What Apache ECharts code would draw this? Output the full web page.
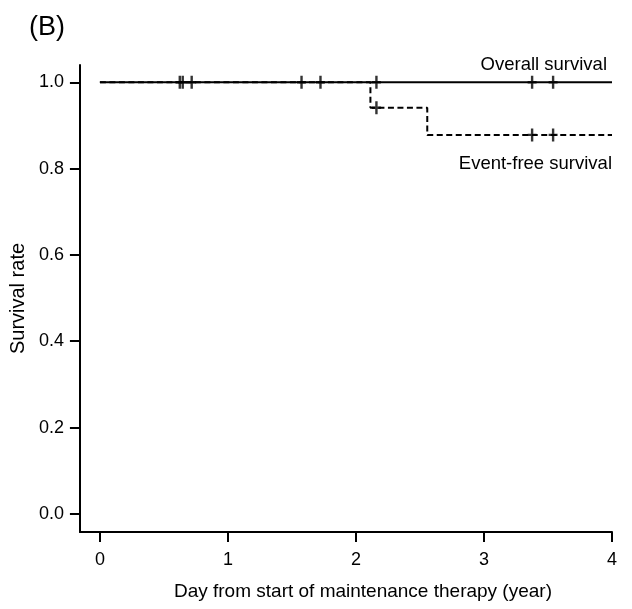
<!DOCTYPE html>
<html>
<head>
<meta charset="utf-8">
<script src="https://cdn.jsdelivr.net/npm/echarts@6/dist/echarts.min.js"></script>
<style>html,body{margin:0;padding:0;background:#fff;}#c{width:632px;height:609px;}</style>
</head>
<body>
<div id="c"></div>
<script>
var xTicks = [0, 1, 2, 3, 4];
var yTicks = [0, 0.2, 0.4, 0.6, 0.8, 1.0];
var overallSurvival = [[0, 1.0], [4, 1.0]];
var overallCensored = [[0.624, 1.0], [0.647, 1.0], [0.717, 1.0], [1.575, 1.0], [1.723, 1.0], [2.16, 1.0], [3.376, 1.0], [3.54, 1.0]];
var eventFreeSurvival = [[0, 1.0], [2.113, 0.941], [2.557, 0.878], [4, 0.878]];
var eventFreeCensored = [[2.16, 0.941], [3.376, 0.878], [3.54, 0.878]];

var plusPath = 'path://M3.3,0H5.7V13H3.3Z M0,5.3H9V7.7H0Z';
var font = 'Liberation Sans, Arial, sans-serif';

var chart = echarts.init(document.getElementById('c'), null, {renderer: 'canvas'});
chart.setOption({
  animation: false,
  backgroundColor: '#fff',
  grid: {left: 79, right: 20, top: 65, bottom: 77, containLabel: false},
  xAxis: {
    type: 'value', min: -0.156, max: 4,
    name: 'Day from start of maintenance therapy (year)',
    nameLocation: 'middle', nameGap: 50,
    nameTextStyle: {color: '#000', fontSize: 19, fontFamily: font, padding: [0, 0, 0, 34]},
    axisLine: {show: true, onZero: false, lineStyle: {color: '#000', width: 2}},
    axisTick: {show: true, customValues: xTicks, length: 10, lineStyle: {color: '#000', width: 2}},
    axisLabel: {customValues: xTicks, margin: 19, color: '#000', fontSize: 18, fontFamily: font},
    splitLine: {show: false}
  },
  yAxis: {
    type: 'value', min: -0.042, max: 1.04,
    name: 'Survival rate',
    nameLocation: 'middle', nameGap: 42,
    nameTextStyle: {color: '#000', fontSize: 20, fontFamily: font},
    axisLine: {show: true, onZero: false, lineStyle: {color: '#000', width: 2}},
    axisTick: {show: true, customValues: yTicks, length: 10, lineStyle: {color: '#000', width: 2}},
    axisLabel: {customValues: yTicks, margin: 16, color: '#000', fontSize: 18, fontFamily: font,
      formatter: function (v) { return v.toFixed(1); }},
    splitLine: {show: false}
  },
  graphic: [
    {type: 'text', left: 29, top: 14, style: {text: '(B)', fontSize: 27, fontFamily: font, fill: '#000'}},
    {type: 'text', right: 25, top: 55, style: {text: 'Overall survival', fontSize: 18.5, fontFamily: font, fill: '#000'}},
    {type: 'text', right: 20, top: 154, style: {text: 'Event-free survival', fontSize: 18.5, fontFamily: font, fill: '#000'}}
  ],
  series: [
    {type: 'line', data: eventFreeSurvival, step: 'end', symbol: 'none', z: 2,
      lineStyle: {color: '#000', width: 2, type: [6, 3.5]}},
    {type: 'line', data: overallSurvival, symbol: 'none', z: 3,
      lineStyle: {color: '#000', width: 2}},
    {type: 'scatter', data: overallCensored, symbol: plusPath, symbolSize: [9, 13], symbolKeepAspect: false, z: 4,
      itemStyle: {color: '#000'}},
    {type: 'scatter', data: eventFreeCensored, symbol: plusPath, symbolSize: [9, 13], symbolKeepAspect: false, z: 4,
      itemStyle: {color: '#000'}}
  ]
});
</script>
</body>
</html>
